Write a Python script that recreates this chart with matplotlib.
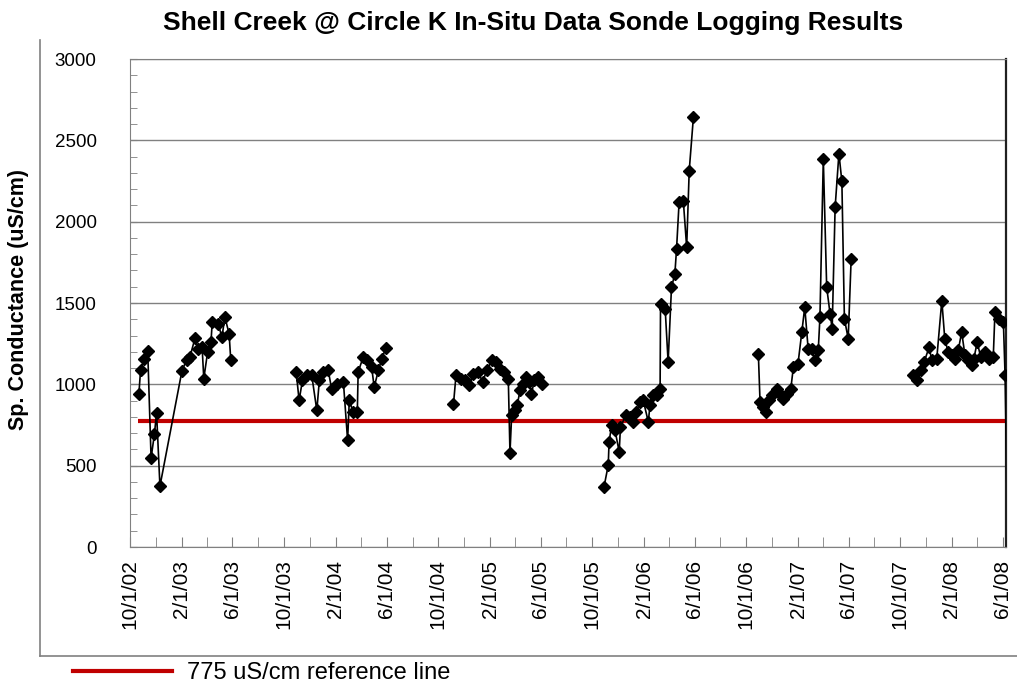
import numpy as np
import pandas as pd
import matplotlib
matplotlib.use("Agg")
import matplotlib.pyplot as plt
import matplotlib.dates as mdates
from matplotlib.lines import Line2D

plt.rcParams['font.family'] = ['Liberation Sans', 'DejaVu Sans']

start = pd.Timestamp('2002-10-01')
end_day = 2076  # right edge of plot area, days after 10/1/02

# sonde deployments: days after 10/1/02 and Sp. Conductance (uS/cm)
seg1_days = [21, 25, 33, 42, 50, 58, 63, 71, 123, 134, 142, 154, 162, 171, 175, 184, 192, 195,
             209, 218, 225, 235, 239]
seg1_vals = [938, 1086, 1153, 1204, 546, 697, 824, 374, 1080, 1151, 1168, 1282, 1219, 1227, 1035,
             1198, 1260, 1382, 1372, 1290, 1413, 1311, 1147]

seg2_days = [394, 401, 409, 419, 431, 443, 449, 458, 470, 478, 490, 506, 516, 520, 529, 539, 541,
             553, 561, 573, 579, 589, 597, 607]
seg2_vals = [1076, 902, 1025, 1055, 1055, 840, 1025, 1076, 1086, 974, 1004, 1014, 656, 902, 830,
             830, 1076, 1168, 1147, 1106, 983, 1086, 1158, 1225]

seg3_days = [767, 773, 784, 794, 804, 814, 826, 836, 846, 858, 868, 877, 887, 897, 901, 905, 913,
             918, 925, 933, 939, 947, 952, 959, 968, 978]
seg3_vals = [877, 1055, 1035, 1025, 994, 1065, 1076, 1014, 1086, 1147, 1137, 1096, 1076, 1035, 579,
             810, 840, 871, 963, 1004, 1045, 1014, 943, 1025, 1045, 1004]

seg4_days = [1124, 1134, 1136, 1142, 1150, 1160, 1163, 1176, 1185, 1193, 1201, 1209, 1217, 1229,
             1233, 1241, 1249, 1257, 1258, 1269, 1276, 1284, 1292, 1296, 1302, 1312, 1320, 1326, 1336]
seg4_vals = [370, 503, 646, 748, 718, 585, 738, 810, 800, 769, 830, 891, 902, 769, 871, 933, 933,
             974, 1491, 1464, 1137, 1597, 1679, 1833, 2118, 2129, 1842, 2313, 2644]

seg5_days = [1490, 1494, 1502, 1507, 1515, 1523, 1533, 1541, 1549, 1557, 1567, 1573, 1584, 1593,
             1600, 1608, 1616, 1624, 1632, 1636, 1644, 1652, 1660, 1665, 1672, 1681, 1688, 1694,
             1703, 1710]
seg5_vals = [1184, 891, 861, 830, 902, 933, 974, 943, 912, 943, 974, 1106, 1127, 1321, 1474, 1219,
             1219, 1147, 1209, 1413, 2385, 1597, 1434, 1342, 2088, 2419, 2247, 1403, 1281, 1771]

# last reading falls just past the right edge of the plot area
seg6_days = [1857, 1867, 1875, 1883, 1895, 1901, 1913, 1925, 1932, 1940, 1948, 1956, 1964, 1972,
             1980, 1988, 1996, 2001, 2009, 2017, 2027, 2037, 2047, 2051, 2061, 2071, 2075, 2079]
seg6_vals = [1055, 1025, 1086, 1137, 1229, 1147, 1158, 1515, 1280, 1198, 1178, 1158, 1209, 1321,
             1178, 1147, 1117, 1158, 1260, 1168, 1198, 1158, 1168, 1444, 1403, 1382, 1055, 400]

segments = [(seg1_days, seg1_vals), (seg2_days, seg2_vals), (seg3_days, seg3_vals),
            (seg4_days, seg4_vals), (seg5_days, seg5_vals), (seg6_days, seg6_vals)]

ref_value = 775
ref_label = '775 uS/cm reference line'


def to_dates(days):
    return start + pd.to_timedelta(np.array(days), unit='D')


fig = plt.figure(figsize=(10.17, 6.88), dpi=100)
ax = fig.add_axes([130 / 1017, 141 / 688, 875.5 / 1017, 488 / 688])

for d, v in segments:
    dates = to_dates(d)
    inside = [i for i, x in enumerate(d) if x <= end_day]
    ax.plot(dates, v, color='black', lw=1.2, marker='D', markersize=6,
            markerfacecolor='black', markeredgecolor='black', markevery=inside, zorder=3)

ax.plot(to_dates([seg1_days[0] - 3, end_day]), [ref_value, ref_value], color='#C00000', lw=3,
        solid_capstyle='butt', zorder=2)

ax.set_ylim(0, 3000)
ax.set_xlim(start, start + pd.Timedelta(days=end_day))
ax.set_yticks(np.arange(0, 3001, 500))
ax.yaxis.set_minor_locator(matplotlib.ticker.MultipleLocator(100))
ax.xaxis.set_major_locator(mdates.MonthLocator(bymonth=[2, 6, 10]))
ax.xaxis.set_minor_locator(mdates.MonthLocator(bymonth=[4, 8, 12]))
ax.xaxis.set_major_formatter(mdates.DateFormatter('%-m/%-d/%y'))
ax.grid(axis='y', which='major', color='#808080', lw=1)
ax.set_axisbelow(True)

ax.tick_params(axis='y', which='both', direction='in', length=5, color='#808080',
               labelsize=13.5, pad=24)
ax.tick_params(axis='x', which='both', direction='in', length=7, color='#808080',
               labelsize=15, pad=9, labelrotation=90)
for s in ['left', 'bottom', 'top']:
    ax.spines[s].set_color('#808080')
ax.spines['right'].set_color('#202020')
ax.spines['right'].set_linewidth(1.6)

fig.text(533 / 1017, 1 - 23 / 688, 'Shell Creek @ Circle K In-Situ Data Sonde Logging Results',
         ha='center', va='center', fontsize=19, fontweight='bold')
fig.text(19 / 1017, 1 - 300 / 688, 'Sp. Conductance (uS/cm)', rotation=90,
         ha='center', va='center', fontsize=15.5, fontweight='bold')

# outer chart border (left and bottom visible)
fig.add_artist(Line2D([40 / 1017, 40 / 1017], [1 - 40 / 688, 1 - 656 / 688],
                      color='#808080', lw=1.2))
fig.add_artist(Line2D([40 / 1017, 1.0], [1 - 656 / 688, 1 - 656 / 688],
                      color='#808080', lw=1.2))

handle = Line2D([], [], color='#C00000', lw=3)
fig.legend([handle], [ref_label], loc='center left', bbox_to_anchor=(73 / 1017, 1 - 673 / 688),
           frameon=False, fontsize=17, handlelength=4.2, handletextpad=0.62,
           borderaxespad=0, borderpad=0)

fig.savefig('out.png', dpi=100)
